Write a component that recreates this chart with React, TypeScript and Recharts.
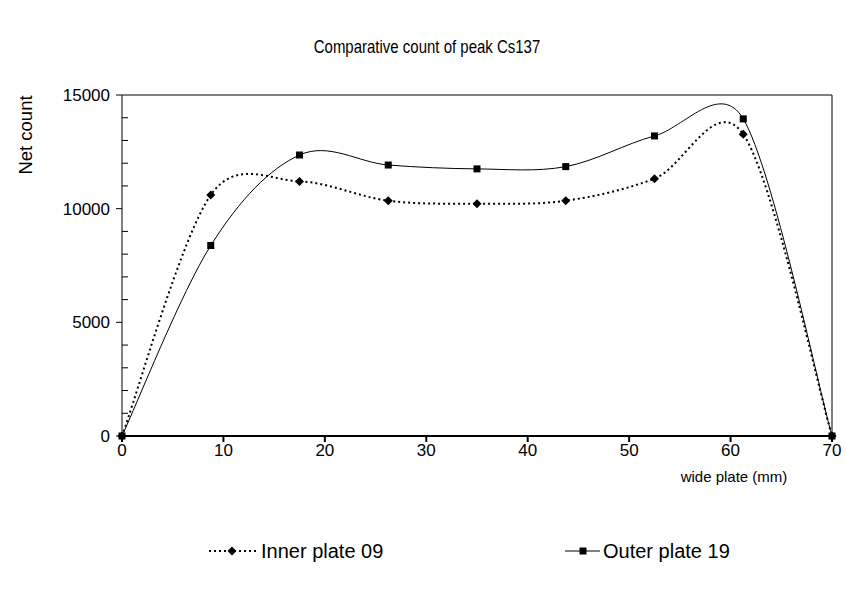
import React from "react";
import { LineChart, Line, XAxis, YAxis, ReferenceLine } from "recharts";

const positions = [0, 8.75, 17.5, 26.25, 35, 43.75, 52.5, 61.25, 70];
const innerPlate = [0, 10600, 11200, 10350, 10220, 10350, 11320, 13270, 0];
const outerPlate = [0, 8380, 12360, 11920, 11750, 11850, 13200, 13950, 0];
const xTicks = [0, 10, 20, 30, 40, 50, 60, 70];
const yTicks = [0, 1000, 2000, 3000, 4000, 5000, 6000, 7000, 8000, 9000, 10000, 11000, 12000, 13000, 14000, 15000];

const data = positions.map((x, i) => ({
  x,
  inner: innerPlate[i],
  outer: outerPlate[i],
}));

const FONT = "'Liberation Sans', Arial, sans-serif";

// Excel-like smoothed line: Catmull-Rom handles (1/6), each handle
// limited to half the length of its segment
function excelCurve(context: any) {
  let pts: number[][] = [];
  const clamp = (dx: number, dy: number, max: number) => {
    const len = Math.hypot(dx, dy);
    if (len <= max || len === 0) return [dx, dy];
    return [(dx * max) / len, (dy * max) / len];
  };
  return {
    areaStart() {},
    areaEnd() {},
    lineStart() {
      pts = [];
    },
    lineEnd() {
      const n = pts.length;
      if (!n) return;
      context.moveTo(pts[0][0], pts[0][1]);
      for (let i = 0; i < n - 1; i++) {
        const p0 = pts[Math.max(i - 1, 0)];
        const p1 = pts[i];
        const p2 = pts[i + 1];
        const p3 = pts[Math.min(i + 2, n - 1)];
        const seg = Math.hypot(p2[0] - p1[0], p2[1] - p1[1]) / 2;
        const a = clamp((p2[0] - p0[0]) / 6, (p2[1] - p0[1]) / 6, seg);
        const b = clamp((p3[0] - p1[0]) / 6, (p3[1] - p1[1]) / 6, seg);
        context.bezierCurveTo(p1[0] + a[0], p1[1] + a[1], p2[0] - b[0], p2[1] - b[1], p2[0], p2[1]);
      }
    },
    point(x: number, y: number) {
      pts.push([+x, +y]);
    },
  };
}

const Diamond = (props: any) => {
  const { cx, cy } = props;
  if (cx == null || cy == null) return null;
  return (
    <polygon
      points={`${cx},${cy - 4.5} ${cx + 4.5},${cy} ${cx},${cy + 4.5} ${cx - 4.5},${cy}`}
      fill="#000"
    />
  );
};

const Square = (props: any) => {
  const { cx, cy } = props;
  if (cx == null || cy == null) return null;
  return <rect x={cx - 3.5} y={cy - 3.5} width={7} height={7} fill="#000" />;
};

const YTick = (props: any) => {
  const { x, y, payload } = props;
  const v = payload.value;
  if (v % 5000 !== 0) {
    return <line x1={x} x2={x + 6} y1={y} y2={y} stroke="#000" />;
  }
  return (
    <g>
      <line x1={x - 6} x2={x} y1={y} y2={y} stroke="#000" />
      <text
        x={x - 12}
        y={y}
        dy="0.36em"
        textAnchor="end"
        fontSize={17}
        fontFamily={FONT}
        fill="#000"
      >
        {v}
      </text>
    </g>
  );
};

export default function App() {
  return (
    <div style={{ position: "absolute", left: 0, top: 0, width: 846, height: 590, background: "#fff" }}>
      <LineChart
        width={846}
        height={590}
        data={data}
        margin={{ top: 95, right: 14, bottom: 114, left: 62 }}
      >
        <text
          transform="translate(427 47) scale(1 1.2)"
          textAnchor="middle"
          dy="0.36em"
          fontSize={15}
          fontFamily={FONT}
          fill="#000"
        >
          Comparative count of peak Cs137
        </text>
        <text
          x={25}
          y={135}
          textAnchor="middle"
          dy="0.36em"
          fontSize={18.5}
          fontFamily={FONT}
          fill="#000"
          transform="rotate(-90 25 135)"
        >
          Net count
        </text>
        <text x={734} y={477} textAnchor="middle" dy="0.36em" fontSize={15} fontFamily={FONT} fill="#000">
          wide plate (mm)
        </text>
        {/* legend */}
        <g>
          <line x1={209} x2={256} y1={551} y2={551} stroke="#000" strokeWidth={2} strokeDasharray="2 3" />
          <polygon points="232,546.5 236.5,551 232,555.5 227.5,551" fill="#000" />
          <text x={261} y={551} dy="0.36em" fontSize={20} fontFamily={FONT} fill="#000">
            Inner plate 09
          </text>
          <line x1={565} x2={600} y1={551} y2={551} stroke="#000" />
          <rect x={579.5} y={547.5} width={7} height={7} fill="#000" />
          <text x={603} y={551} dy="0.36em" fontSize={20} fontFamily={FONT} fill="#000">
            Outer plate 19
          </text>
        </g>
        <XAxis
          dataKey="x"
          type="number"
          domain={[0, 70]}
          ticks={xTicks}
          interval={0}
          stroke="#000"
          strokeWidth={2}
          tickSize={6}
          tickMargin={2}
          tick={{ fontSize: 17, fontFamily: FONT, fill: "#000" }}
          height={40}
        />
        <YAxis
          type="number"
          domain={[0, 15000]}
          ticks={yTicks}
          interval={0}
          stroke="#000"
          tickLine={false}
          tickSize={0}
          tickMargin={0}
          tick={<YTick />}
          width={60}
        />
        <ReferenceLine y={15000} stroke="#000" />
        <ReferenceLine x={70} stroke="#000" />
        <Line
          dataKey="inner"
          type={excelCurve as any}
          stroke="#000"
          strokeWidth={2}
          strokeDasharray="2 3"
          dot={<Diamond />}
          activeDot={false}
          isAnimationActive={false}
        />
        <Line
          dataKey="outer"
          type={excelCurve as any}
          stroke="#000"
          strokeWidth={1}
          dot={<Square />}
          activeDot={false}
          isAnimationActive={false}
        />
      </LineChart>
    </div>
  );
}
